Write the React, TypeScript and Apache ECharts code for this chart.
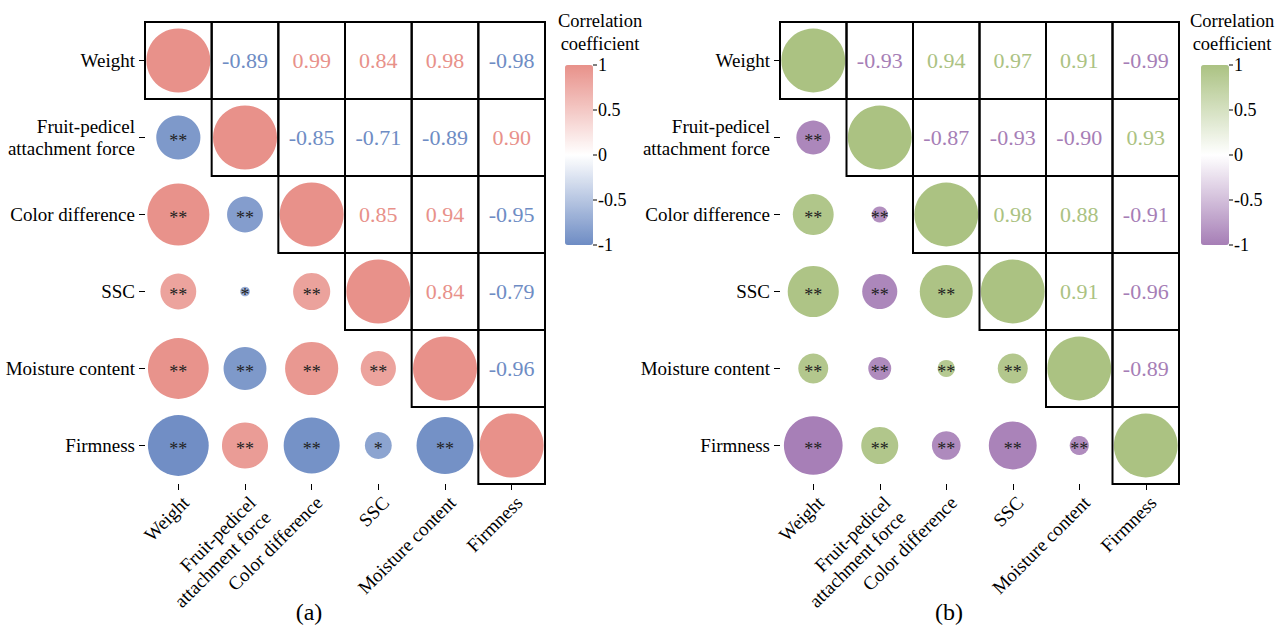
import React, { useEffect, useRef } from "react";
import * as echarts from "echarts";

const vars = [
  "Weight",
  "Fruit-pedicel\nattachment force",
  "Color difference",
  "SSC",
  "Moisture content",
  "Firmness",
];

// Correlation matrices (symmetric)
const corrA = [
  [1, -0.89, 0.99, 0.84, 0.98, -0.98],
  [-0.89, 1, -0.85, -0.71, -0.89, 0.9],
  [0.99, -0.85, 1, 0.85, 0.94, -0.95],
  [0.84, -0.71, 0.85, 1, 0.84, -0.79],
  [0.98, -0.89, 0.94, 0.84, 1, -0.96],
  [-0.98, 0.9, -0.95, -0.79, -0.96, 1],
];
const corrB = [
  [1, -0.93, 0.94, 0.97, 0.91, -0.99],
  [-0.93, 1, -0.87, -0.93, -0.9, 0.93],
  [0.94, -0.87, 1, 0.98, 0.88, -0.91],
  [0.97, -0.93, 0.98, 1, 0.91, -0.96],
  [0.91, -0.9, 0.88, 0.91, 1, -0.89],
  [-0.99, 0.93, -0.91, -0.96, -0.89, 1],
];

// Relative circle sizes in the lower triangle (diagonal = 1)
const sizeA = [
  [1],
  [0.69, 1],
  [0.97, 0.56, 1],
  [0.56, 0.15, 0.58, 1],
  [0.95, 0.67, 0.83, 0.55, 1],
  [0.95, 0.72, 0.875, 0.42, 0.89, 1],
];
const sizeB = [
  [1],
  [0.53, 1],
  [0.64, 0.25, 1],
  [0.8, 0.55, 0.83, 1],
  [0.47, 0.36, 0.27, 0.47, 1],
  [0.92, 0.58, 0.45, 0.75, 0.3, 1],
];

// Significance marks in the lower triangle
const starsA = [
  [""],
  ["**", ""],
  ["**", "**", ""],
  ["**", "*", "**", ""],
  ["**", "**", "**", "**", ""],
  ["**", "**", "**", "*", "**", ""],
];
const starsB = [
  [""],
  ["**", ""],
  ["**", "**", ""],
  ["**", "**", "**", ""],
  ["**", "**", "**", "**", ""],
  ["**", "**", "**", "**", "**", ""],
];

const colorbarTicks = ["1", "0.5", "0", "-0.5", "-1"];
const panelLabels = ["(a)", "(b)"];

const RED = "#E8918A";
const BLUE = "#6E8CC4";
const GREEN = "#ABC282";
const PURPLE = "#A67EB6";
const FONT = "'Liberation Serif', 'Times New Roman', serif";

function buildCircles(corr: number[][], size: number[][]) {
  const out: number[][] = [];
  for (let i = 0; i < size.length; i++) {
    for (let j = 0; j < size[i].length; j++) {
      out.push([j, i, corr[i][j], size[i][j]]);
    }
  }
  return out;
}
function buildStars(stars: string[][]) {
  const out: string[] = [];
  stars.forEach((row) => row.forEach((s) => out.push(s)));
  return out;
}
function buildUpper(corr: number[][]) {
  const out: number[][] = [];
  for (let i = 0; i < corr.length; i++) {
    for (let j = i + 1; j < corr.length; j++) out.push([j, i, corr[i][j]]);
  }
  return out;
}
function buildBoxes(n: number) {
  const out: number[][] = [];
  for (let i = 0; i < n; i++) for (let j = i; j < n; j++) out.push([j, i]);
  return out;
}

export default function App() {
  const ref = useRef<HTMLDivElement>(null);
  useEffect(() => {
    if (!ref.current) return;
    const chart = echarts.init(ref.current, null, { renderer: "svg" });

    const grids = [
      { left: 145, top: 22, width: 400, height: 462 },
      { left: 780, top: 22, width: 399, height: 462 },
    ];
    const panels = [
      { corr: corrA, size: sizeA, stars: buildStars(starsA), pos: RED, neg: BLUE },
      { corr: corrB, size: sizeB, stars: buildStars(starsB), pos: GREEN, neg: PURPLE },
    ];

    const xAxes: any[] = [];
    const yAxes: any[] = [];
    const series: any[] = [];
    const visualMaps: any[] = [];
    const graphics: any[] = [];
    const cbLeft = [565, 1201];
    const titleX = [600, 1232];

    panels.forEach((p, k) => {
      xAxes.push({
        type: "category",
        gridIndex: k,
        data: vars,
        position: "bottom",
        axisLine: { show: false },
        axisTick: { show: true, alignWithLabel: true, length: 6, lineStyle: { color: "#000" } },
        axisLabel: {
          rotate: 45,
          margin: 8,
          fontFamily: FONT,
          fontSize: 19,
          color: "#000",
          interval: 0,
          lineHeight: 21,
          align: "right",
          verticalAlign: "top",
        },
        splitLine: { show: false },
      });
      yAxes.push({
        type: "category",
        gridIndex: k,
        data: vars,
        inverse: true,
        axisLine: { show: false },
        axisTick: { show: true, alignWithLabel: true, length: 6, lineStyle: { color: "#000" } },
        axisLabel: {
          margin: 10,
          fontFamily: FONT,
          fontSize: 19,
          color: "#000",
          interval: 0,
          lineHeight: 22,
        },
        splitLine: { show: false },
      });

      const circleIdx = series.length;
      const stars = p.stars;
      series.push({
        type: "custom",
        xAxisIndex: k,
        yAxisIndex: k,
        data: buildCircles(p.corr, p.size),
        renderItem: (params: any, api: any) => {
          const c = api.coord([api.value(0), api.value(1)]);
          const cell = api.size([1, 1]);
          const r = api.value(3) * 0.48 * cell[0];
          const st = stars[params.dataIndex];
          return {
            type: "group",
            children: [
              { type: "circle", shape: { cx: c[0], cy: c[1], r }, style: { fill: api.visual("color") } },
              {
                type: "text",
                x: c[0],
                y: c[1] + 3,
                style: {
                  text: st,
                  fontFamily: FONT,
                  fontSize: 18,
                  fill: "#222",
                  align: "center",
                  verticalAlign: "middle",
                },
              },
            ],
          };
        },
        z: 2,
      });
      series.push({
        type: "custom",
        xAxisIndex: k,
        yAxisIndex: k,
        data: buildUpper(p.corr),
        renderItem: (params: any, api: any) => {
          const c = api.coord([api.value(0), api.value(1)]);
          const v = api.value(2);
          return {
            type: "text",
            x: c[0],
            y: c[1],
            style: {
              text: v.toFixed(2),
              fontFamily: FONT,
              fontSize: 22,
              fill: v > 0 ? p.pos : p.neg,
              align: "center",
              verticalAlign: "middle",
            },
          };
        },
        z: 3,
      });
      series.push({
        type: "custom",
        xAxisIndex: k,
        yAxisIndex: k,
        data: buildBoxes(vars.length),
        renderItem: (params: any, api: any) => {
          const c = api.coord([api.value(0), api.value(1)]);
          const cell = api.size([1, 1]);
          return {
            type: "rect",
            shape: { x: c[0] - cell[0] / 2, y: c[1] - cell[1] / 2, width: cell[0], height: cell[1] },
            style: { fill: "none", stroke: "#000", lineWidth: 2 },
          };
        },
        z: 4,
      });

      visualMaps.push({
        type: "continuous",
        min: -1,
        max: 1,
        seriesIndex: circleIdx,
        dimension: 2,
        inRange: { color: [p.neg, "#ffffff", p.pos] },
        left: cbLeft[k],
        top: 65,
        itemWidth: 28,
        itemHeight: 180,
        calculable: false,
        padding: 0,
        hoverLink: false,
      });

      const tx = cbLeft[k] + 28;
      colorbarTicks.forEach((t, ti) => {
        const y = 65 + ti * 45;
        graphics.push({ type: "line", shape: { x1: tx, y1: y, x2: tx + 4, y2: y }, style: { stroke: "#000", lineWidth: 1 } });
        graphics.push({
          type: "text",
          x: tx + 5,
          y,
          style: { text: t, fontFamily: FONT, fontSize: 18, fill: "#000", align: "left", verticalAlign: "middle" },
        });
      });
      graphics.push({
        type: "text",
        x: titleX[k],
        y: 9,
        style: {
          text: "Correlation\ncoefficient",
          fontFamily: FONT,
          fontSize: 18.5,
          lineHeight: 23,
          fill: "#000",
          align: "center",
          verticalAlign: "top",
        },
      });
      graphics.push({
        type: "text",
        x: [309, 949][k],
        y: 612,
        style: { text: panelLabels[k], fontFamily: FONT, fontSize: 24, fill: "#000", align: "center", verticalAlign: "middle" },
      });
    });

    chart.setOption({
      animation: false,
      backgroundColor: "#fff",
      grid: grids,
      xAxis: xAxes,
      yAxis: yAxes,
      visualMap: visualMaps,
      series,
      graphic: graphics,
    });
    return () => chart.dispose();
  }, []);
  return <div ref={ref} style={{ position: "fixed", left: 0, top: 0, width: 1277, height: 626 }} />;
}
